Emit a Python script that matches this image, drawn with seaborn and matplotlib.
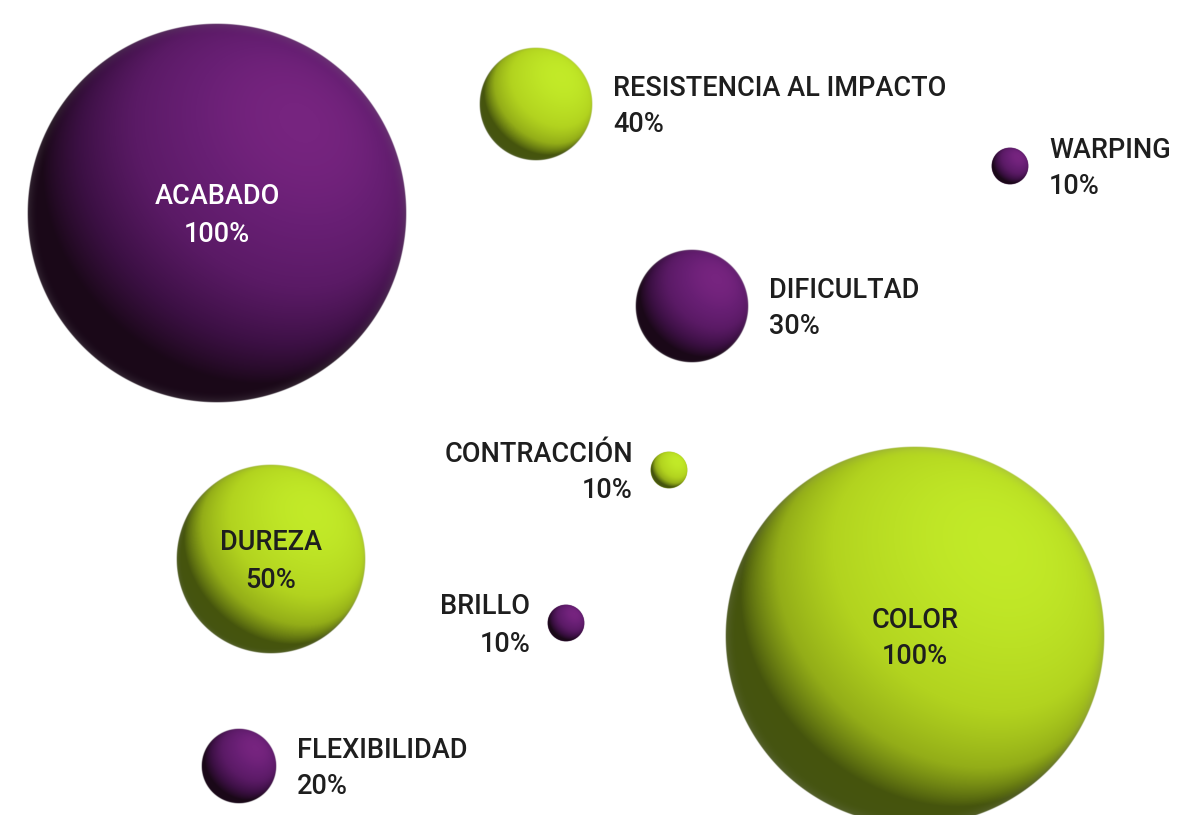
import numpy as np
import pandas as pd
import matplotlib
matplotlib.use("Agg")
import matplotlib.pyplot as plt
from matplotlib.colors import LinearSegmentedColormap
import seaborn as sns

# ---- data ----
names = ["ACABADO", "RESISTENCIA AL IMPACTO", "WARPING", "DIFICULTAD",
         "CONTRACCIÓN", "DUREZA", "BRILLO", "COLOR", "FLEXIBILIDAD"]
values = [100, 40, 10, 30, 10, 50, 10, 100, 20]
# bubble size as drawn in the picture (RESISTENCIA is drawn like a 30)
bubble = [100, 30, 10, 30, 10, 50, 10, 100, 20]
xpos = [217, 536, 1010, 692, 669, 271, 566, 915, 239]
ypos = [213, 104, 166, 306, 470, 559, 623, 636, 766]
group = ["morado", "verde", "morado", "morado", "verde", "verde", "morado", "verde", "morado"]
label_pos = ["inside", "right", "right", "right", "left", "inside", "left", "inside", "right"]

W, H, DPI = 1179, 815, 100
RAD_PER_UNIT = 1.9  # bubble radius (px) per size unit

palette = {"morado": "#5c1a67", "verde": "#b0d11f"}
shade_stops = {
    "morado": ["#1a0a1a", "#1a0818", "#3c1044", "#5a1a65", "#681f74", "#76247f"],
    "verde":  ["#47561a", "#45540d", "#93ad18", "#b2d31f", "#bbe024", "#c2ea28"],
}
text_inside = {"morado": "white", "verde": "#1e1e1e"}

df = pd.DataFrame({"name": names, "value": values, "bubble": bubble,
                   "x": xpos, "y": ypos, "group": group, "pos": label_pos})

sns.set_theme(style="white")
plt.rcParams["font.family"] = ["Roboto", "DejaVu Sans"]

fig = plt.figure(figsize=(W / DPI, H / DPI), dpi=DPI)
ax = fig.add_axes([0, 0, 1, 1])
ax.set_xlim(0, W)
ax.set_ylim(H, 0)
ax.axis("off")

pt_per_px = 72.0 / DPI
size_map = {b: (2 * RAD_PER_UNIT * b * pt_per_px * 0.96) ** 2 for b in sorted(set(bubble))}
sns.scatterplot(data=df, x="x", y="y", hue="group", palette=palette,
                size="bubble", sizes=size_map, legend=False, linewidth=0,
                ax=ax, zorder=2)
ax.set_xlim(0, W)
ax.set_ylim(H, 0)

L = np.array([0.44, 0.48, 0.76])
L = L / np.linalg.norm(L)
levels = [-1.0, -0.05, 0.3, 0.62, 0.85, 1.0]

for _, row in df.iterrows():
    r = RAD_PER_UNIT * row["bubble"]
    n = int(max(64, 4 * r))
    lin = np.linspace(-1, 1, n)
    u, v = np.meshgrid(lin, -lin)
    rho2 = u ** 2 + v ** 2
    rho = np.sqrt(rho2)
    w = np.sqrt(np.clip(1 - rho2, 0, 1))
    d = u * L[0] + v * L[1] + w * L[2]
    stops = shade_stops[row["group"]]
    cmap = LinearSegmentedColormap.from_list(
        "s", list(zip([(lv + 1) / 2 for lv in levels], stops)))
    rgba = cmap((d + 1) / 2)
    # subtle grey rim
    rim = np.clip((rho - 0.94) / 0.06, 0, 1) ** 2 * 0.22
    rgba[..., :3] = rgba[..., :3] * (1 - rim[..., None]) + 0.55 * rim[..., None]
    rgba[..., 3] = np.clip((1 - rho) * r, 0, 1)
    ax.imshow(rgba, extent=(row["x"] - r, row["x"] + r, row["y"] + r, row["y"] - r),
              interpolation="antialiased", zorder=3)

FS = 19.5
LINE = 18.5
CAP = 10
for _, row in df.iterrows():
    r = RAD_PER_UNIT * row["bubble"]
    name, pct = row["name"], f"{row['value']}%"
    if row["pos"] == "inside":
        tx, ha = row["x"], "center"
        col = text_inside[row["group"]]
    elif row["pos"] == "right":
        tx, ha = row["x"] + r + 20, "left"
        col = "#1e1e1e"
    else:
        tx, ha = row["x"] - r - 17, "right"
        col = "#1e1e1e"
    ax.text(tx, row["y"] - LINE + CAP, name, ha=ha, va="baseline",
            fontsize=FS, fontweight="medium", color=col, zorder=5)
    ax.text(tx, row["y"] + LINE + CAP, pct, ha=ha, va="baseline",
            fontsize=FS, fontweight="medium", color=col, zorder=5)

fig.savefig("out.png", dpi=DPI)
